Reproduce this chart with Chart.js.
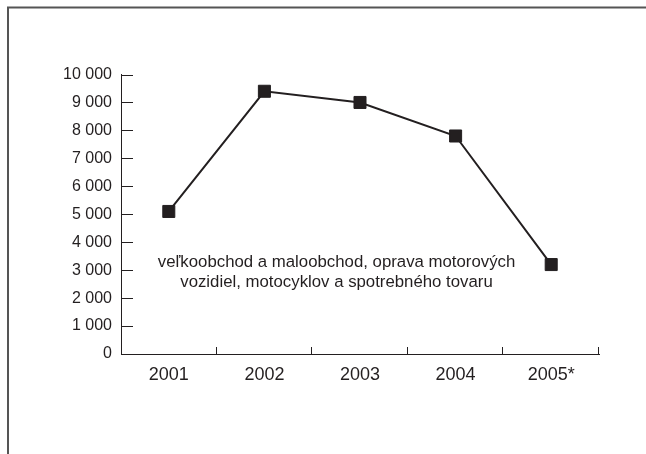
<!DOCTYPE html>
<html>
<head>
<meta charset="utf-8">
<script src="https://cdn.jsdelivr.net/npm/chart.js@4/dist/chart.umd.min.js"></script>
<style>
  html, body { margin: 0; padding: 0; background: #fff; }
  #wrap { position: relative; width: 646px; height: 454px; }
  canvas { display: block; }
</style>
</head>
<body>
<div id="wrap"><canvas id="c" width="646" height="454"></canvas></div>
<script>
const categories = ['2001', '2002', '2003', '2004', '2005*'];
const values = [5100, 9400, 9000, 7800, 3200];
const yTicks = [0, 1000, 2000, 3000, 4000, 5000, 6000, 7000, 8000, 9000, 10000];
const annotationLines = ['veľkoobchod a maloobchod, oprava motorových', 'vozidiel, motocyklov a spotrebného tovaru'];

const INK = '#231f20';
const FONT = '"Liberation Sans", Arial, sans-serif';

function fmt(v) {
  return String(v).replace(/\B(?=(\d{3})+(?!\d))/g, ' ');
}

const decor = {
  id: 'decor',
  beforeDraw(chart) {
    const ctx = chart.ctx;
    ctx.save();
    ctx.strokeStyle = '#555';
    ctx.lineWidth = 2;
    ctx.beginPath();
    ctx.moveTo(8, 460);
    ctx.lineTo(8, 7.5);
    ctx.lineTo(660, 7.5);
    ctx.stroke();
    ctx.restore();
  },
  afterDraw(chart) {
    const ctx = chart.ctx;
    const xs = chart.scales.x, ys = chart.scales.y;
    const area = chart.chartArea;
    ctx.save();
    ctx.strokeStyle = INK;
    ctx.lineWidth = 1;
    ctx.beginPath();
    yTicks.forEach(v => {
      const y = Math.round(ys.getPixelForValue(v)) + 0.5;
      ctx.moveTo(area.left, y);
      ctx.lineTo(area.left + 12, y);
    });
    for (let i = 1; i <= categories.length; i++) {
      let x;
      if (i < categories.length) {
        x = (xs.getPixelForValue(i - 1) + xs.getPixelForValue(i)) / 2;
      } else {
        x = area.right;
      }
      x = Math.round(x) - 0.5;
      ctx.moveTo(x, area.bottom);
      ctx.lineTo(x, area.bottom - 7);
    }
    ctx.stroke();
    ctx.fillStyle = '#231f20';
    ctx.font = '16.8px ' + FONT;
    ctx.textAlign = 'center';
    ctx.textBaseline = 'middle';
    const cx = 336.5;
    ctx.fillText(annotationLines[0], cx, 262);
    ctx.fillText(annotationLines[1], cx, 282);
    ctx.restore();
  }
};

new Chart(document.getElementById('c'), {
  type: 'line',
  data: {
    labels: categories,
    datasets: [{
      data: values,
      borderColor: INK,
      borderWidth: 2,
      backgroundColor: INK,
      pointStyle: 'rect',
      pointRadius: 8.5,
      pointBorderWidth: 1,
      pointBorderColor: INK,
      pointBackgroundColor: INK,
      pointHoverRadius: 8.5,
      tension: 0,
      fill: false
    }]
  },
  options: {
    responsive: false,
    animation: false,
    events: [],
    layout: { padding: { left: 0, top: 74.5, right: 47, bottom: 60 } },
    plugins: { legend: { display: false }, tooltip: { enabled: false } },
    scales: {
      x: {
        type: 'category',
        offset: true,
        grid: { display: false, drawTicks: false },
        border: { display: true, color: INK, width: 1 },
        ticks: { color: '#231f20', font: { family: FONT, size: 18 }, padding: 10, maxRotation: 0 },
        afterFit(s) { s.height = 40; }
      },
      y: {
        min: 0,
        max: 10000,
        grid: { display: false, drawTicks: false },
        border: { display: true, color: INK, width: 1 },
        afterBuildTicks(s) { s.ticks = yTicks.map(v => ({ value: v })); },
        ticks: {
          color: '#231f20',
          font: { family: FONT, size: 16 },
          padding: 9,
          callback: v => fmt(v)
        },
        afterFit(s) { s.width = 121; }
      }
    }
  },
  plugins: [decor]
});
</script>
</body>
</html>
